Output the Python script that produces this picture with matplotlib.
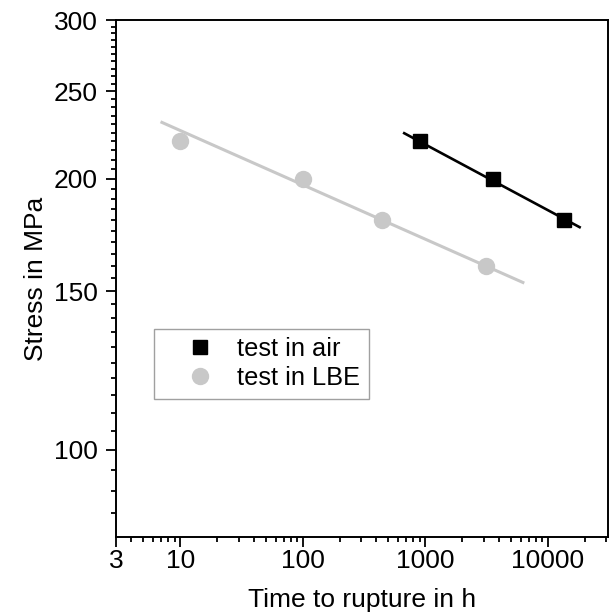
import numpy as np
import matplotlib
matplotlib.use('Agg')
import matplotlib.pyplot as plt
from matplotlib.ticker import FixedLocator, LogLocator, NullFormatter

plt.rcParams['font.family'] = ['Liberation Sans', 'DejaVu Sans']

# data
air_time = [900, 3600, 13700]
air_stress = [220, 200, 180]
lbe_time = [10, 100, 440, 3150]
lbe_stress = [220, 200, 180, 160]

# end points of the fitted lines
air_fit_time = [674, 18200]
air_fit_stress = [224.7, 176.7]
lbe_fit_time = [7.1, 6270]
lbe_fit_stress = [231, 153.4]

x_ticks = [3, 10, 100, 1000, 10000]
y_ticks = [100, 150, 200, 250, 300]

gray = '#c8c8c8'

fig = plt.figure(figsize=(6.11, 6.12), dpi=100)
ax = fig.add_axes([0.190, 0.1225, 0.805, 0.8445])

ax.plot(lbe_fit_time, lbe_fit_stress, color=gray, lw=2.2, zorder=2)
ax.plot(air_fit_time, air_fit_stress, color='black', lw=1.9, zorder=2)

ax.plot(air_time, air_stress, 's', color='black', ms=10, ls='none',
        label='test in air', zorder=3)
ax.plot(lbe_time, lbe_stress, 'o', color=gray, ms=11.5, ls='none',
        label='test in LBE', zorder=3)

ax.set_xscale('log')
ax.set_yscale('log')
ax.set_xlim(3, 31000)
ax.set_ylim(80, 300)

ax.xaxis.set_major_locator(FixedLocator(x_ticks))
ax.set_xticklabels([str(v) for v in x_ticks])
ax.xaxis.set_minor_locator(LogLocator(base=10, subs=np.arange(2, 10)))
ax.xaxis.set_minor_formatter(NullFormatter())

ax.yaxis.set_major_locator(FixedLocator(y_ticks))
ax.set_yticklabels([str(v) for v in y_ticks])
ax.yaxis.set_minor_locator(FixedLocator([v for v in range(85, 300, 5) if v not in y_ticks]))
ax.yaxis.set_minor_formatter(NullFormatter())

ax.tick_params(which='major', direction='out', length=7, width=1.3, labelsize=19,
               top=False, right=False)
ax.tick_params(which='minor', direction='out', length=3.6, width=1.3,
               top=False, right=False)
ax.tick_params(axis='x', which='major', pad=1.5)
ax.tick_params(axis='y', which='major', pad=6)
for sp in ax.spines.values():
    sp.set_linewidth(1.4)

ax.set_xlabel('Time to rupture in h', fontsize=19, labelpad=11)
ax.set_ylabel('Stress in MPa', fontsize=19, labelpad=4)

leg = ax.legend(loc='lower left', bbox_to_anchor=(0.078, 0.267), fontsize=18.3,
                frameon=True, fancybox=False, edgecolor='#888888',
                handlelength=2.94, handletextpad=-0.02, borderpad=0.34,
                labelspacing=0.2, borderaxespad=0)
leg.get_frame().set_linewidth(1.0)

fig.savefig('out.png', dpi=100)
